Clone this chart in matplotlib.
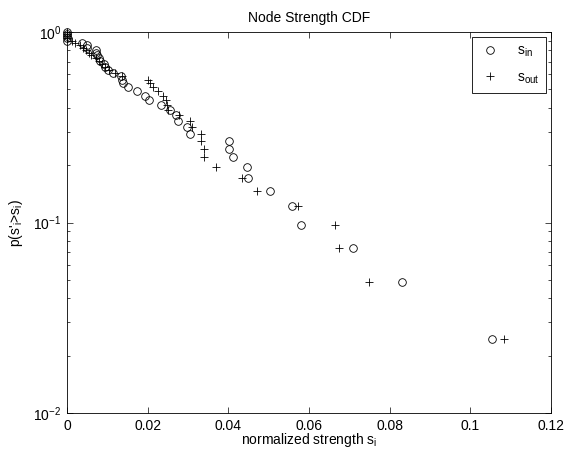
'''Node strength CDF: in- and out-strength on a log-scaled y axis.'''

import matplotlib
matplotlib.use('Agg')
import matplotlib.pyplot as plt
from matplotlib.ticker import LogLocator, NullFormatter

plt.rcParams['font.family'] = ['Liberation Sans', 'DejaVu Sans']
plt.rcParams['mathtext.default'] = 'regular'
plt.rcParams['font.size'] = 10

# Cumulative probabilities p(s' > s), same ranks for both series
p_in = [0.0244, 0.0488, 0.0732, 0.0976, 0.122, 0.146, 0.171, 0.195,
        0.2195, 0.244, 0.268, 0.293, 0.317, 0.341, 0.366, 0.390, 0.415,
        0.439, 0.463, 0.488, 0.512, 0.537, 0.561, 0.585, 0.610, 0.634,
        0.659, 0.683, 0.707, 0.732, 0.756, 0.780, 0.805, 0.829, 0.854,
        0.878, 0.902, 0.927, 0.951, 0.976, 1.0]
s_in = [0.1054, 0.0830, 0.0708, 0.0579, 0.0557, 0.0503, 0.0449, 0.0447,
        0.0412, 0.0402, 0.0401, 0.0305, 0.0298, 0.0276, 0.0270, 0.0255,
        0.0233, 0.0204, 0.0193, 0.0173, 0.0152, 0.0140, 0.0136, 0.0134,
        0.0115, 0.0102, 0.0094, 0.0092, 0.0082, 0.0079, 0.0075, 0.0072,
        0.0071, 0.0050, 0.0049, 0.0036, 0.0, 0.0, 0.0, 0.0, 0.0]

p_out = list(p_in)
s_out = [0.1084, 0.0748, 0.0675, 0.0664, 0.0573, 0.0472, 0.0433, 0.0369,
         0.0340, 0.0340, 0.0331, 0.0331, 0.0311, 0.0306, 0.0278, 0.0251,
         0.0248, 0.0245, 0.0239, 0.0226, 0.0212, 0.0206, 0.0201, 0.0136,
         0.0120, 0.0105, 0.0094, 0.0086, 0.0080, 0.0072, 0.0060, 0.0055,
         0.0047, 0.0040, 0.0032, 0.0020, 0.0012, 0.0, 0.0, 0.0, 0.0]

x_ticks = [0, 0.02, 0.04, 0.06, 0.08, 0.1, 0.12]
x_tick_labels = ['0', '0.02', '0.04', '0.06', '0.08', '0.1', '0.12']


def main():
    fig = plt.figure(figsize=(5.64, 4.55), dpi=100)
    ax = fig.add_axes([67 / 564, 42 / 455, 484 / 564, 381 / 455])

    ax.plot(s_in, p_in, 'o', mfc='none', mec='black', ms=5.5, mew=0.6,
            label='s$_{in}$', clip_on=False)
    ax.plot(s_out, p_out, '+', color='black', ms=6, mew=0.6,
            label='s$_{out}$', clip_on=False)

    ax.set_yscale('log')
    ax.set_xlim(0, 0.12)
    ax.set_ylim(0.01, 1)
    ax.set_xticks(x_ticks)
    ax.set_xticklabels(x_tick_labels)
    ax.yaxis.set_major_locator(LogLocator(base=10, numticks=5))
    ax.yaxis.set_minor_locator(LogLocator(base=10, subs=range(2, 10),
                                          numticks=20))
    ax.yaxis.set_minor_formatter(NullFormatter())

    ax.tick_params(which='both', direction='in', top=True, right=True,
                   width=0.5, colors='black')
    ax.tick_params(which='major', length=4, pad=4)
    ax.tick_params(which='minor', length=2)
    for spine in ax.spines.values():
        spine.set_linewidth(0.6)

    ax.set_title('Node Strength CDF', fontsize=10, pad=7)
    ax.set_xlabel('normalized strength s$_i$', labelpad=-1)
    ax.set_ylabel("p(s'$_i$>s$_i$)", labelpad=6)

    leg = ax.legend(loc='upper right', fancybox=False, edgecolor='black',
                    framealpha=1, borderaxespad=0.35, handlelength=1.5,
                    handletextpad=1.2, borderpad=0.5, labelspacing=0.8)
    leg.get_frame().set_linewidth(0.6)

    fig.savefig('out.png', dpi=100)


if __name__ == '__main__':
    main()
